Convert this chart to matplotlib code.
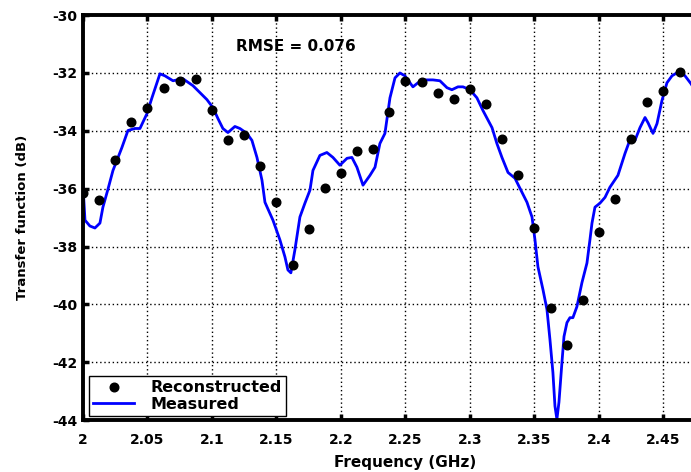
import matplotlib
matplotlib.use("Agg")
import matplotlib.pyplot as plt
import numpy as np

plt.rcParams["axes.unicode_minus"] = False

# measured transfer function (blue line)
meas_freq = [
    2.0000, 2.0016, 2.0054, 2.0093, 2.0132, 2.0155, 2.0194, 2.0233, 2.0302, 2.0349,
    2.0403, 2.0442, 2.0496, 2.0535, 2.0597, 2.0636, 2.0698, 2.0775, 2.0853, 2.0907,
    2.0961, 2.1008, 2.1047, 2.1085, 2.1124, 2.1178, 2.1217, 2.1271, 2.1310, 2.1349,
    2.1388, 2.1411, 2.1473, 2.1527, 2.1566, 2.1589, 2.1612, 2.1643, 2.1682, 2.1721,
    2.1760, 2.1783, 2.1837, 2.1891, 2.1938, 2.1992, 2.2047, 2.2085, 2.2124, 2.2171,
    2.2225, 2.2264, 2.2302, 2.2341, 2.2380, 2.2419, 2.2457, 2.2496, 2.2535, 2.2558,
    2.2597, 2.2651, 2.2713, 2.2767, 2.2822, 2.2860, 2.2907, 2.2946, 2.3000, 2.3054,
    2.3101, 2.3171, 2.3209, 2.3248, 2.3295, 2.3349, 2.3388, 2.3442, 2.3481, 2.3504,
    2.3527, 2.3566, 2.3597, 2.3620, 2.3643, 2.3659, 2.3674, 2.3690, 2.3713, 2.3729,
    2.3752, 2.3775, 2.3798, 2.3829, 2.3868, 2.3907, 2.3930, 2.3946, 2.3969, 2.4008,
    2.4047, 2.4085, 2.4147, 2.4202, 2.4233, 2.4279, 2.4318, 2.4357, 2.4380, 2.4419,
    2.4450, 2.4488, 2.4527, 2.4566, 2.4628, 2.4667, 2.4713, 2.4760,
]
meas_db = [
    -35.85, -37.09, -37.29, -37.36, -37.19, -36.64, -36.02, -35.37, -34.58, -33.99,
    -33.92, -33.92, -33.41, -32.86, -32.03, -32.10, -32.27, -32.20, -32.44, -32.68,
    -32.92, -33.20, -33.58, -33.92, -34.06, -33.85, -33.92, -34.09, -34.33, -34.92,
    -35.71, -36.47, -37.09, -37.77, -38.36, -38.81, -38.91, -38.12, -36.98, -36.50,
    -36.05, -35.37, -34.85, -34.75, -34.92, -35.19, -34.95, -34.92, -35.26, -35.88,
    -35.54, -35.26, -34.44, -34.09, -32.86, -32.17, -32.00, -32.10, -32.34, -32.48,
    -32.34, -32.24, -32.24, -32.27, -32.51, -32.58, -32.48, -32.48, -32.58, -32.86,
    -33.30, -33.89, -34.44, -34.92, -35.44, -35.64, -35.99, -36.47, -36.98, -37.77,
    -38.70, -39.49, -40.18, -41.21, -42.35, -43.52, -43.97, -43.38, -42.01, -41.11,
    -40.63, -40.46, -40.46, -40.08, -39.25, -38.57, -37.77, -37.19, -36.64, -36.50,
    -36.30, -35.95, -35.54, -34.78, -34.40, -34.33, -33.89, -33.54, -33.72, -34.09,
    -33.75, -32.96, -32.34, -32.10, -31.93, -32.10, -32.37, -32.70,
]

# reconstructed points (black dots), one every 12.5 MHz
recon_freq = [2.0 + 0.0125 * k for k in range(39)]
recon_db = [
    -36.16, -36.40, -35.02, -33.68, -33.20, -32.51, -32.27, -32.20, -33.27, -34.33,
    -34.13, -35.23, -36.47, -38.63, -37.40, -35.99, -35.47, -34.71, -34.64, -33.34,
    -32.27, -32.30, -32.68, -32.89, -32.55, -33.06, -34.30, -35.54, -37.36, -40.11,
    -41.39, -39.84, -37.50, -36.36, -34.27, -32.99, -32.61, -31.96, -33.16,
]

x_ticks = [2.0, 2.05, 2.1, 2.15, 2.2, 2.25, 2.3, 2.35, 2.4, 2.45]
x_tick_labels = ["2", "2.05", "2.1", "2.15", "2.2", "2.25", "2.3", "2.35", "2.4", "2.45"]
y_ticks = [-44, -42, -40, -38, -36, -34, -32, -30]
rmse_text = "RMSE = 0.076"

font = "DejaVu Sans"

fig = plt.figure(figsize=(6.91, 4.72), dpi=100)
# axes runs past the right edge of the figure, like the cropped original
ax = fig.add_axes([0.120, 0.110, 0.9335, 0.858])

ax.plot(recon_freq, recon_db, "o", color="black", markersize=6.2,
        label="Reconstructed", zorder=3)
ax.plot(meas_freq, meas_db, "-", color="#0000ff", linewidth=2.0,
        label="Measured", zorder=2)

ax.set_xlim(2.0, 2.5)
ax.set_ylim(-44, -30)
ax.set_xticks(x_ticks)
ax.set_xticklabels(x_tick_labels)
ax.set_yticks(y_ticks)

ax.grid(True, color="black", linestyle=(0, (1, 2.0)), linewidth=1.0)
for side in ["left", "bottom", "top", "right"]:
    ax.spines[side].set_linewidth(2.8)
ax.tick_params(direction="in", length=4, width=2.5, top=True, right=True,
               labelsize=10)
ax.tick_params(axis="x", pad=9)
ax.tick_params(axis="y", pad=4)
for lbl in ax.get_xticklabels() + ax.get_yticklabels():
    lbl.set_fontweight("bold")
    lbl.set_fontfamily(font)

ax.set_xlabel("Frequency (GHz)", fontsize=11, fontweight="bold",
              family=font, labelpad=6)
ax.set_ylabel("Transfer function (dB)", fontsize=9.5, fontweight="bold",
              family=font, labelpad=17)

ax.text(2.165, -31.07, rmse_text, fontsize=11, fontweight="bold",
        family=font, ha="center", va="center")

leg = ax.legend(loc="lower left", bbox_to_anchor=(0.0093, 0.0099),
                borderaxespad=0, fancybox=False, framealpha=1,
                edgecolor="black", handlelength=2.6, labelspacing=0.1,
                borderpad=0.25, handletextpad=1.0,
                prop={"family": font, "weight": "bold", "size": 11.5})
leg.get_frame().set_linewidth(1.0)

fig.savefig("out.png", dpi=100)
